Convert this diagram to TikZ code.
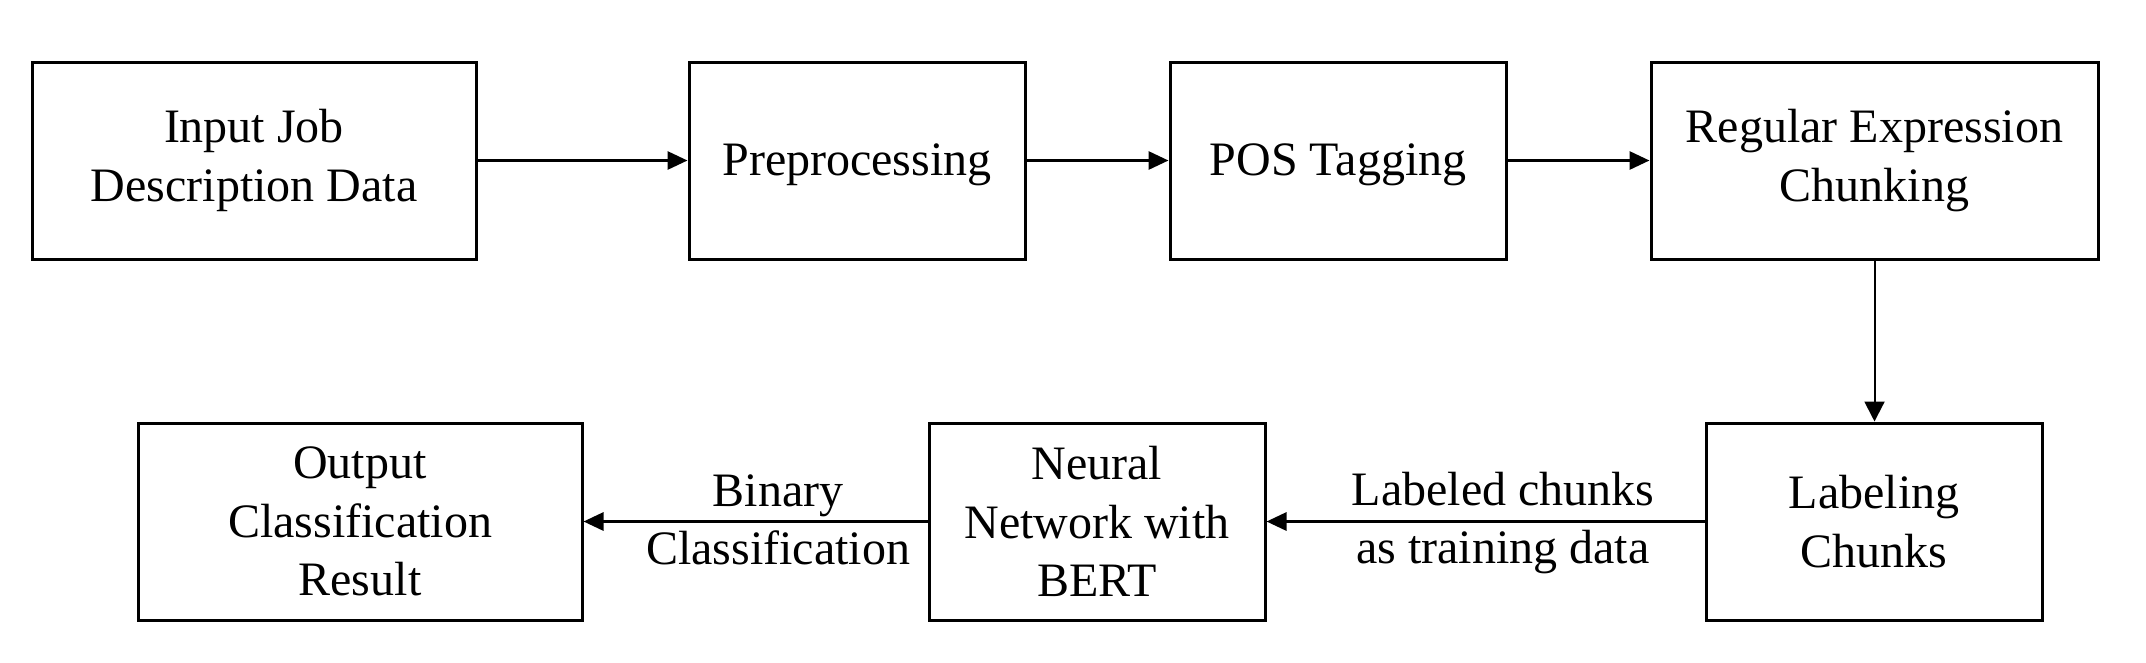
\documentclass[tikz,border=0pt]{standalone}
\usepackage{fontspec}
\setmainfont{Liberation Serif}
\usetikzlibrary{arrows.meta}
\begin{document}
\begin{tikzpicture}[x=1pt,y=-1pt,
  txt/.style={font=\fontsize{48}{58.5}\selectfont, align=center},
  stepbox/.style={txt, draw, line width=3pt, inner sep=0pt, minimum height=197pt},
  oneline/.style={text height=33pt, text depth=4pt},
  lbl/.style={txt, inner sep=0pt},
  conn/.style={line width=3pt, -{Triangle[length=20pt,width=18pt]}},
  connthin/.style={line width=2pt, -{Triangle[length=20pt,width=20pt]}}
]
\useasboundingbox (0,0) rectangle (2146,662);
\node[stepbox, minimum width=444pt] (input) at (254,160.5) {Input Job\\Description Data};
\node[stepbox, oneline, minimum width=336pt] (prep) at (857,160.5) {Preprocessing};
\node[stepbox, oneline, minimum width=336pt] (pos) at (1338,160.5) {POS Tagging};
\node[stepbox, minimum width=447pt] (regex) at (1874.5,160.5) {Regular Expression\\Chunking};
\node[stepbox, minimum width=336pt] (label) at (1874,521.5) {Labeling\\Chunks};
\node[stepbox, minimum width=336pt] (nn) at (1097,521.5) {Neural\\Network with\\BERT};
\node[stepbox, minimum width=444pt] (out) at (360,521.5) {Output\\Classification\\Result};
\draw[conn] (input) -- (prep);
\draw[conn] (prep) -- (pos);
\draw[conn] (pos) -- (regex);
\draw[connthin] (regex.south) -- (regex.south |- label.north);
\draw[conn] (label) -- (nn);
\draw[conn] (nn) -- (out);
\node[lbl] (lblbin) at (778,520) {Binary\\Classification};
\node[lbl] (lbltrain) at (1503,523) {Labeled chunks\\as training data};
\end{tikzpicture}
\end{document}
